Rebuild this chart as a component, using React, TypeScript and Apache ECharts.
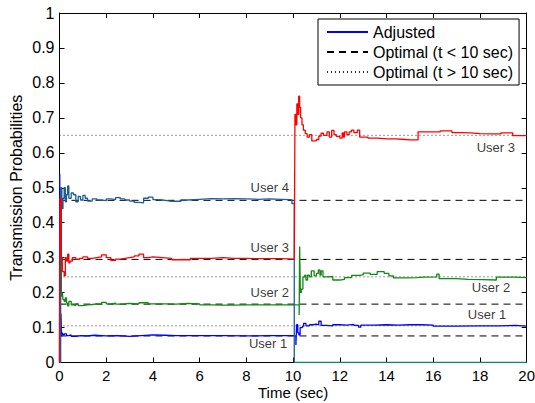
import React, { useEffect, useRef } from "react";
import * as echarts from "echarts";

// ---- data ----
const user1Before: [number, number][] = [
  [0, 0], [0.01, 0.54], [0.03, 0.09], [0.06, 0.14], [0.09, 0.075], [0.12, 0.085], [0.15, 0.079],
  [0.2, 0.082], [0.3, 0.077], [0.4, 0.079], [0.5, 0.075], [0.7, 0.077], [0.9, 0.076], [1.2, 0.078],
  [1.5, 0.076], [2.0, 0.077], [2.5, 0.075], [3.0, 0.077], [3.5, 0.079], [4.0, 0.078], [4.5, 0.077],
  [5.0, 0.077], [6.0, 0.077], [7.0, 0.076], [8.0, 0.077], [9.0, 0.077], [10.05, 0.076],
];
const user1After: [number, number][] = [
  [10.05, 0.076], [10.12, 0.05], [10.15, 0.108], [10.2, 0.085], [10.25, 0.079], [10.3, 0.1],
  [10.4, 0.104], [10.45, 0.112], [10.55, 0.105], [10.7, 0.108], [10.85, 0.11], [11.0, 0.108],
  [11.1, 0.118], [11.2, 0.106], [11.4, 0.105], [11.7, 0.108], [12.0, 0.107], [12.3, 0.109],
  [12.6, 0.106], [12.8, 0.101], [12.9, 0.107], [13.5, 0.108], [14.0, 0.107], [14.5, 0.108],
  [15.0, 0.108], [15.5, 0.107], [16.0, 0.104], [16.5, 0.104], [17.0, 0.105], [18.0, 0.105],
  [18.8, 0.106], [19.5, 0.104], [20, 0.103],
];
const user2Before: [number, number][] = [
  [0, 0.33], [0.08, 0.19], [0.12, 0.2], [0.15, 0.18], [0.2, 0.175], [0.25, 0.185], [0.3, 0.17],
  [0.35, 0.162], [0.4, 0.175], [0.5, 0.165], [0.6, 0.163], [0.7, 0.168], [0.8, 0.163], [1.0, 0.165],
  [1.2, 0.166], [1.4, 0.168], [1.6, 0.167], [1.8, 0.172], [2.0, 0.168], [2.2, 0.17], [2.4, 0.167],
  [2.6, 0.168], [2.8, 0.169], [3.0, 0.168], [3.4, 0.171], [3.8, 0.168], [4.2, 0.168], [4.6, 0.167],
  [5.0, 0.169], [5.5, 0.168], [6.0, 0.165], [6.5, 0.164], [7.0, 0.164], [7.5, 0.165], [8.0, 0.165],
  [9.0, 0.165], [10.0, 0.165], [10.2, 0.165],
];
const user2After: [number, number][] = [
  [10.2, 0.165], [10.26, 0.136], [10.28, 0.332], [10.31, 0.2], [10.35, 0.21], [10.42, 0.245],
  [10.5, 0.25], [10.55, 0.236], [10.62, 0.25], [10.7, 0.245], [10.78, 0.262], [10.9, 0.248],
  [11.0, 0.255], [11.08, 0.265], [11.15, 0.25], [11.2, 0.262], [11.28, 0.245], [11.5, 0.246],
  [11.7, 0.236], [12.0, 0.238], [12.2, 0.243], [12.5, 0.249], [12.8, 0.251], [13.0, 0.256],
  [13.3, 0.252], [13.6, 0.26], [13.9, 0.255], [14.1, 0.248], [14.3, 0.242], [14.8, 0.243],
  [15.3, 0.244], [15.6, 0.245], [16.15, 0.253], [16.25, 0.24], [17.0, 0.238], [17.5, 0.237],
  [18.1, 0.236], [18.7, 0.244], [19.5, 0.243], [20, 0.242],
];
const user3Before: [number, number][] = [
  [0, 0], [0.02, 0.47], [0.08, 0.3], [0.12, 0.26], [0.2, 0.248], [0.25, 0.3], [0.3, 0.29],
  [0.35, 0.31], [0.4, 0.285], [0.45, 0.29], [0.55, 0.3], [0.7, 0.295], [0.85, 0.298], [1.0, 0.302],
  [1.2, 0.298], [1.4, 0.3], [1.6, 0.302], [1.8, 0.308], [2.0, 0.3], [2.2, 0.292], [2.4, 0.296],
  [2.6, 0.298], [2.8, 0.3], [3.0, 0.302], [3.2, 0.305], [3.4, 0.31], [3.6, 0.3], [3.8, 0.302],
  [4.0, 0.3], [4.4, 0.298], [4.8, 0.294], [5.2, 0.294], [5.6, 0.298], [6.0, 0.298], [6.5, 0.3],
  [7.0, 0.298], [7.5, 0.298], [8.0, 0.297], [8.5, 0.297], [9.0, 0.297], [9.5, 0.296], [10.05, 0.296],
];
const user3After: [number, number][] = [
  [10.05, 0.296], [10.08, 0.71], [10.12, 0.68], [10.16, 0.74], [10.2, 0.71], [10.24, 0.762],
  [10.28, 0.73], [10.32, 0.7], [10.38, 0.68], [10.44, 0.665], [10.52, 0.655], [10.6, 0.645],
  [10.7, 0.652], [10.8, 0.634], [11.0, 0.638], [11.1, 0.648], [11.2, 0.656], [11.3, 0.65],
  [11.45, 0.66], [11.55, 0.645], [11.65, 0.664], [11.75, 0.652], [11.85, 0.647], [12.0, 0.642],
  [12.1, 0.657], [12.15, 0.645], [12.2, 0.66], [12.3, 0.652], [12.4, 0.66], [12.5, 0.665],
  [12.6, 0.658], [12.75, 0.665], [12.85, 0.645], [13.2, 0.642], [13.6, 0.64], [14.0, 0.64],
  [14.4, 0.638], [14.8, 0.637], [15.0, 0.637], [15.35, 0.66], [16.3, 0.663], [16.8, 0.658],
  [17.2, 0.657], [17.6, 0.655], [18.0, 0.654], [18.6, 0.654], [18.9, 0.657], [19.4, 0.649],
  [20, 0.648],
];
const user4Before: [number, number][] = [
  [0, 0], [0.05, 0.5], [0.1, 0.44], [0.15, 0.47], [0.2, 0.5], [0.25, 0.46], [0.3, 0.48],
  [0.35, 0.505], [0.4, 0.47], [0.5, 0.485], [0.6, 0.48], [0.7, 0.46], [0.8, 0.475], [0.9, 0.465],
  [1.0, 0.478], [1.1, 0.47], [1.2, 0.462], [1.4, 0.468], [1.6, 0.465], [1.8, 0.463], [2.0, 0.468],
  [2.2, 0.466], [2.4, 0.472], [2.6, 0.468], [2.8, 0.465], [3.0, 0.462], [3.2, 0.458], [3.4, 0.457],
  [3.6, 0.47], [3.8, 0.473], [4.0, 0.466], [4.2, 0.465], [4.4, 0.463], [4.6, 0.461], [4.8, 0.462],
  [5.0, 0.461], [5.2, 0.465], [5.5, 0.467], [6.0, 0.469], [6.5, 0.468], [7.0, 0.469], [7.5, 0.468],
  [8.0, 0.467], [8.5, 0.468], [9.0, 0.467], [9.5, 0.466], [9.9, 0.465], [9.95, 0.455], [10.05, 0],
];
const user4After: [number, number][] = [[10.05, 0], [20, 0]];

const optimalBefore = [0.076, 0.167, 0.295, 0.464]; // t < 10 sec
const optimalAfter = [0.105, 0.245, 0.65];          // t > 10 sec
const timeSpan = [0, 20];

const annotations: { t: number; v: number; text: string }[] = [
  { t: 9.0, v: 0.502, text: "User 4" },
  { t: 9.0, v: 0.33, text: "User 3" },
  { t: 9.0, v: 0.2, text: "User 2" },
  { t: 8.93, v: 0.053, text: "User 1" },
  { t: 18.68, v: 0.614, text: "User 3" },
  { t: 18.47, v: 0.216, text: "User 2" },
  { t: 18.3, v: 0.136, text: "User 1" },
];

const xTitle = "Time (sec)";
const yTitle = "Transmission Probabilities";
const legendNames = ["Adjusted", "Optimal (t < 10 sec)", "Optimal (t > 10 sec)"];

const FONT = "'Liberation Sans', Arial, Helvetica, sans-serif";

export default function App() {
  const ref = useRef<HTMLDivElement>(null);
  useEffect(() => {
    if (!ref.current) return;
    const chart = echarts.init(ref.current, undefined, { renderer: "svg" });
    const adj = (data: [number, number][], color: string) => ({
      type: "line",
      name: legendNames[0],
      data,
      step: "end",
      showSymbol: false,
      symbol: "none",
      lineStyle: { color, width: 1.3 },
      itemStyle: { color },
      xAxisIndex: 0,
      yAxisIndex: 0,
      z: 3,
    });
    const ref1 = (v: number, name: string, dash: number[], color: string) => ({
      type: "line",
      name,
      data: timeSpan.map((t) => [t, v]),
      showSymbol: false,
      symbol: "none",
      lineStyle: { color, width: 1, type: dash },
      itemStyle: { color },
      z: 2,
    });
    const series: any[] = [
      adj(user1Before, "#0000ff"),
      adj(user1After, "#0000ff"),
      ...optimalBefore.map((v) => ref1(v, legendNames[1], [7, 5], "#000000")),
      ...optimalAfter.map((v) => ref1(v, legendNames[2], [1, 3], "#333333")),
      adj(user2Before, "#108a10"),
      adj(user2After, "#108a10"),
      adj(user4Before, "#1f5c99"),
      adj(user4After, "#17807a"),
      adj(user3Before, "#ff0000"),
      adj(user3After, "#ff0000"),
      {
        type: "scatter",
        name: "labels",
        data: annotations.map((a) => ({ value: [a.t, a.v], label: { formatter: a.text } })),
        symbolSize: 0.1,
        itemStyle: { color: "rgba(0,0,0,0)" },
        label: {
          show: true,
          position: "inside",
          color: "#000",
          fontFamily: FONT,
          fontSize: 13,
        },
        z: 5,
      },
    ];
    const tickCommon = { inside: true, length: 5, lineStyle: { color: "#000", width: 1 } };
    chart.setOption({
      animation: false,
      backgroundColor: "#ffffff",
      textStyle: { fontFamily: FONT },
      grid: {
        left: 59.5,
        right: 8.3,
        top: 13,
        bottom: 40.5,
        containLabel: false,
        outerBoundsMode: "none",
      },
      legend: {
        data: legendNames,
        orient: "vertical",
        left: 318,
        top: 19,
        itemWidth: 41,
        itemHeight: 16,
        itemGap: 4,
        padding: [5, 6, 5, 8],
        backgroundColor: "#ffffff",
        borderColor: "#000000",
        borderWidth: 1,
        borderRadius: 0,
        selectedMode: false,
        itemStyle: { opacity: 0, borderWidth: 0 },
        textStyle: { fontFamily: FONT, fontSize: 16, color: "#000" },
      },
      xAxis: [
        {
          type: "value",
          min: 0,
          max: 20,
          interval: 2,
          position: "bottom",
          name: xTitle,
          nameLocation: "middle",
          nameGap: 22,
          nameMoveOverlap: false,
          nameTextStyle: { fontFamily: FONT, fontSize: 15, color: "#000" },
          axisLine: { show: true, onZero: false, lineStyle: { color: "#000", width: 1 } },
          axisTick: tickCommon,
          axisLabel: { fontFamily: FONT, fontSize: 15, color: "#000", margin: 5 },
          splitLine: { show: false },
        },
        {
          type: "value",
          min: 0,
          max: 20,
          interval: 2,
          position: "top",
          axisLine: { show: true, onZero: false, lineStyle: { color: "#000", width: 1 } },
          axisTick: tickCommon,
          axisLabel: { show: false },
          splitLine: { show: false },
        },
      ],
      yAxis: [
        {
          type: "value",
          min: 0,
          max: 1,
          interval: 0.1,
          position: "left",
          name: yTitle,
          nameLocation: "middle",
          nameGap: 35,
          nameMoveOverlap: false,
          nameTextStyle: { fontFamily: FONT, fontSize: 16, color: "#000" },
          axisLine: { show: true, onZero: false, lineStyle: { color: "#000", width: 1 } },
          axisTick: tickCommon,
          axisLabel: { fontFamily: FONT, fontSize: 16, color: "#000", margin: 5 },
          splitLine: { show: false },
        },
        {
          type: "value",
          min: 0,
          max: 1,
          interval: 0.1,
          position: "right",
          axisLine: { show: true, onZero: false, lineStyle: { color: "#000", width: 1 } },
          axisTick: tickCommon,
          axisLabel: { show: false },
          splitLine: { show: false },
        },
      ],
      series,
    });
    return () => chart.dispose();
  }, []);
  return (
    <div
      ref={ref}
      style={{ position: "fixed", left: 0, top: 0, width: 535, height: 403, background: "#fff" }}
    />
  );
}
